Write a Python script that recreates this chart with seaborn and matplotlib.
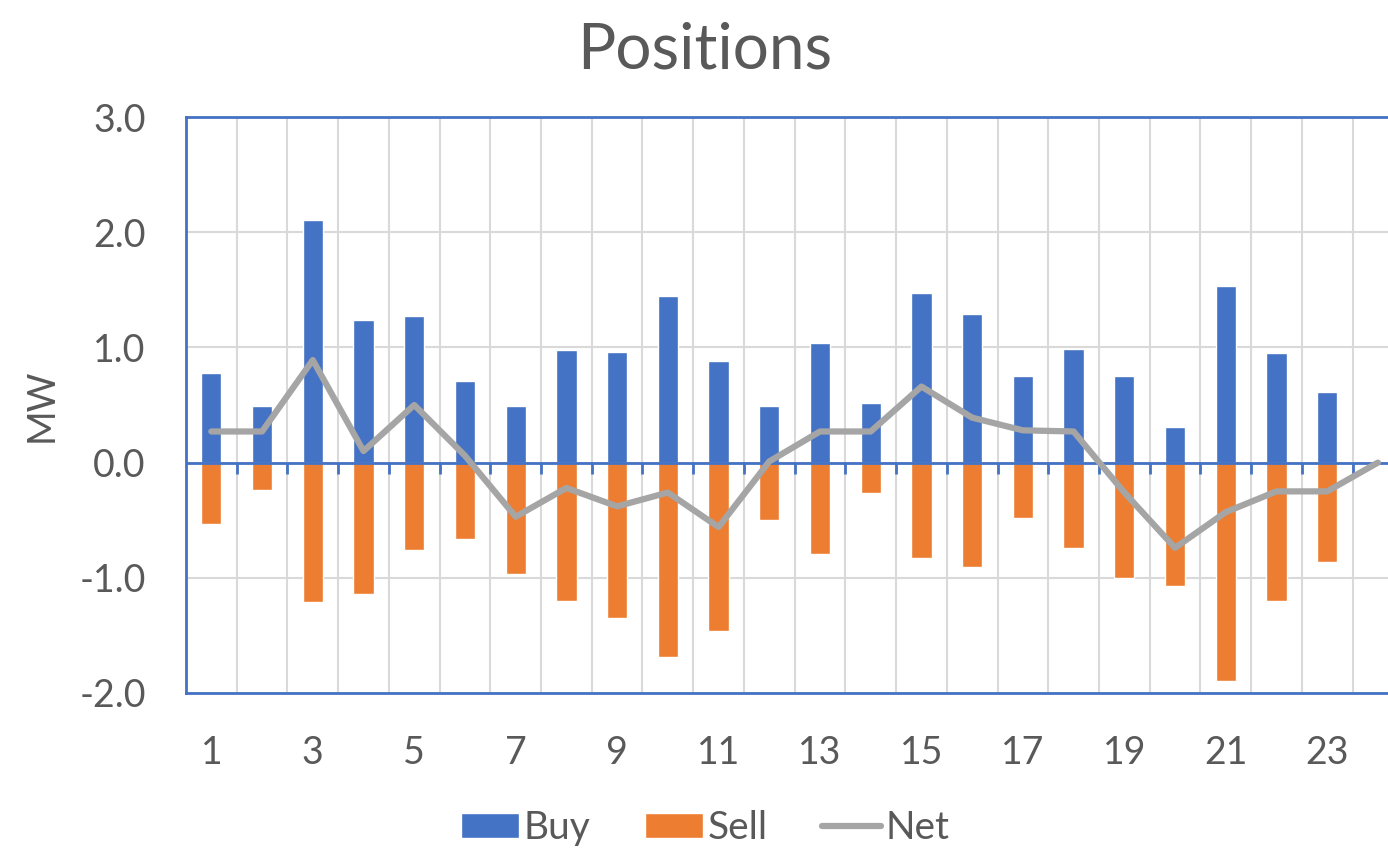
import numpy as np
import pandas as pd
import matplotlib
matplotlib.use("Agg")
import matplotlib.pyplot as plt
from matplotlib.patches import Patch
from matplotlib.lines import Line2D
from matplotlib.ticker import NullLocator
import seaborn as sns

# hourly positions (MW)
hours = list(range(1, 25))
buy = [0.78, 0.49, 2.11, 1.24, 1.27, 0.71, 0.49, 0.98, 0.96, 1.45, 0.88, 0.49,
       1.04, 0.52, 1.47, 1.29, 0.75, 0.99, 0.75, 0.31, 1.53, 0.95, 0.61, 0.0]
sell = [-0.53, -0.24, -1.21, -1.14, -0.76, -0.66, -0.97, -1.20, -1.35, -1.69, -1.46, -0.50,
        -0.79, -0.26, -0.83, -0.91, -0.48, -0.74, -1.00, -1.07, -1.90, -1.20, -0.86, 0.0]
net = [0.27, 0.27, 0.89, 0.10, 0.50, 0.06, -0.47, -0.22, -0.38, -0.26, -0.56, 0.01,
       0.27, 0.27, 0.66, 0.39, 0.28, 0.27, -0.26, -0.74, -0.43, -0.25, -0.25, 0.0]

BLUE = "#4472C4"
ORANGE = "#ED7D31"
GREY = "#A5A5A5"
TEXT = "#595959"
GRID = "#D9D9D9"

df = pd.DataFrame({"hour": hours, "buy": buy, "sell": sell, "net": net})

sns.set_theme(style="white")
plt.rcParams["font.family"] = ["Lato", "DejaVu Sans"]

fig = plt.figure(figsize=(13.88, 8.51), dpi=100)
ax = fig.add_axes([0.134, 0.1857, 0.877, 0.6768])

sns.barplot(data=df, x="hour", y="buy", color=BLUE, saturation=1, width=0.4,
            errorbar=None, ax=ax, zorder=2)
sns.barplot(data=df, x="hour", y="sell", color=ORANGE, saturation=1, width=0.4,
            errorbar=None, ax=ax, zorder=2)
ax.axhline(0, color=BLUE, linewidth=2, zorder=3)
sns.lineplot(x=np.arange(len(hours)), y=df["net"], color=GREY, linewidth=4.5,
             ax=ax, zorder=4, solid_capstyle="round", solid_joinstyle="round")

ax.set_xlim(-0.5, len(hours) - 0.5)
ax.set_ylim(-2, 3)
ax.set_yticks(np.arange(-2, 3.1, 1))
ax.yaxis.set_major_formatter(plt.FuncFormatter(lambda v, p: f"{v:.1f}"))
ax.set_xticks(np.arange(0, len(hours), 2))
ax.set_xticklabels([str(h) for h in hours[::2]])
ax.set_xticks(np.arange(0.5, len(hours) - 0.5, 1), minor=True)

ax.tick_params(axis="x", which="both", length=0, pad=30, labelsize=27, labelcolor=TEXT)
ax.tick_params(axis="y", length=0, pad=29, labelsize=27, labelcolor=TEXT)
ax.grid(True, axis="y", which="major", color=GRID, linewidth=1.5, zorder=0)
ax.grid(True, axis="x", which="minor", color=GRID, linewidth=1.5, zorder=0)
ax.set_axisbelow(True)

for side in ["top", "bottom", "left", "right"]:
    ax.spines[side].set_color(BLUE)
    ax.spines[side].set_linewidth(2)

ax.set_xlabel("")
ax.set_ylabel("MW", fontsize=27, color=TEXT, labelpad=14)

# boundary ticks hanging below the zero line
secax = ax.secondary_xaxis(0.4)
secax.set_zorder(3)
secax.set_xticks(np.arange(0.5, len(hours) - 0.5, 1))
secax.xaxis.set_minor_locator(NullLocator())
secax.set_xticklabels([])
secax.tick_params(axis="x", which="major", length=8, width=2, color=BLUE, direction="out")
for s in secax.spines.values():
    s.set_visible(False)

fig.suptitle("Positions", fontsize=46, color=TEXT, x=0.508, y=0.975)

handles = [Patch(facecolor=BLUE, label="Buy"),
           Patch(facecolor=ORANGE, label="Sell"),
           Line2D([0], [0], color=GREY, linewidth=4.5, label="Net")]
leg = fig.legend(handles=handles, loc="center", bbox_to_anchor=(0.508, 0.027),
                 ncol=3, frameon=False, fontsize=28, handlelength=1.5,
                 handleheight=0.62, handletextpad=0.12, columnspacing=1.4)
for t in leg.get_texts():
    t.set_color(TEXT)

fig.savefig("out.png", dpi=100)
